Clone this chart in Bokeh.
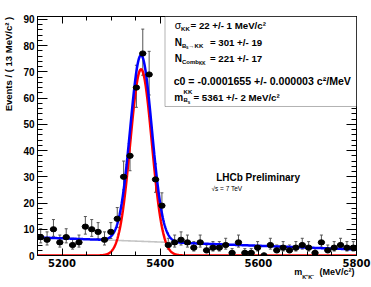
import numpy as np
from bokeh.plotting import figure
from bokeh.models import (Range1d, LinearAxis, SingleIntervalTicker, FixedTicker,
                          Label, BoxAnnotation, Whisker, ColumnDataSource, TeeHead)
from bokeh.embed import file_html
from bokeh.resources import INLINE

# ---------------- data ----------------
mass_min = 5150.0
mass_max = 5800.0
bin_width = 13.0
counts = [7, 6, 10, 5, 7, 4, 5, 11, 10, 9,
          6, 9, 14, 30, 38, 64, 77, 69, 29, 19,
          4, 5, 6, 5, 3, 5, 2, 3, 3, 4,
          1, 5, 1, 1, 3, 0, 4, 2, 3, 2,
          3, 4, 3, 1, 5, 2, 3, 4, 3, 3]

# fit result (from the legend box) and background
sig_mean = 5361.0
sig_sigma = 22.0
sig_yield = 301.0
bkg_left = 6.9     # combinatorial level at 5150
bkg_right = 2.3    # combinatorial level at 5800

y_max = 91.1
x_tick_step = 200
y_tick_step = 10
y_title = "Events / ( 13 MeV/c² )"
x_title_main = ["m", "(MeV/c²)"]
x_title_sub = "K⁺K⁻"

# ---------------- layout helpers (canvas pixels -> data) ----------------
W, H = 371, 287
BL, BR, BT, BB = 35, 15, 16, 32
FL, FR = BL, W - BR
FT, FB = BT, H - BB


def dx(px):
    return round(mass_min + (px - FL) / (FR - FL) * (mass_max - mass_min), 3)


def dy(py):
    return round((FB - py) / (FB - FT) * y_max, 4)


# ---------------- derived columns ----------------
n = np.array(counts, dtype=float)
centers = mass_min + bin_width * (np.arange(len(counts)) + 0.5)
err_lo = n - (np.sqrt(n + 0.25) - 0.5)
err_hi = n + (np.sqrt(n + 0.25) + 0.5)
data_src = ColumnDataSource(dict(x=centers, y=n, lo=err_lo, hi=err_hi))

m = np.linspace(mass_min, mass_max, 1301)
amp = sig_yield * bin_width / (np.sqrt(2 * np.pi) * sig_sigma)
sig = amp * np.exp(-0.5 * ((m - sig_mean) / sig_sigma) ** 2)
bkg = bkg_left + (bkg_right - bkg_left) * (m - mass_min) / (mass_max - mass_min)
curve_src = ColumnDataSource(dict(m=m, sig=sig, bkg=bkg, tot=sig + bkg))

# ---------------- figure ----------------
p = figure(width=W, height=H, output_backend="svg", toolbar_location=None,
           x_range=Range1d(mass_min, mass_max), y_range=Range1d(0, y_max),
           min_border_left=BL, min_border_right=BR, min_border_top=BT,
           min_border_bottom=BB, x_axis_location=None, y_axis_location=None)
p.grid.visible = False
p.background_fill_color = "white"
p.border_fill_color = "white"
p.outline_line_color = "black"
p.outline_line_width = 1


def make_axis(ticker, tick_major, tick_minor, font=None, standoff=0):
    ax = LinearAxis(ticker=ticker)
    ax.major_tick_in = tick_major
    ax.major_tick_out = 0
    ax.minor_tick_in = tick_minor
    ax.minor_tick_out = 0
    ax.axis_line_color = "black"
    ax.major_tick_line_color = "black"
    ax.minor_tick_line_color = "black"
    if font:
        ax.major_label_text_font = font
        ax.major_label_text_font_style = "bold"
        ax.major_label_text_font_size = "10px"
        ax.major_label_standoff = standoff
        ax.major_label_text_color = "black"
    else:
        ax.major_label_text_font_size = "8px"
        ax.major_label_text_color = None
        ax.major_label_standoff = 0
    return ax


def title_axis(ticks, labels, size, standoff, orientation="horizontal"):
    ax = LinearAxis(ticker=FixedTicker(ticks=ticks, minor_ticks=[]))
    ax.major_label_overrides = {t: lab for t, lab in zip(ticks, labels)}
    ax.axis_line_color = None
    ax.major_tick_line_color = None
    ax.minor_tick_line_color = None
    ax.major_tick_in = 0
    ax.major_tick_out = 0
    ax.minor_tick_in = 0
    ax.minor_tick_out = 0
    ax.major_label_standoff = standoff
    ax.major_label_orientation = orientation
    ax.major_label_text_font = "Liberation Sans"
    ax.major_label_text_font_style = "bold"
    ax.major_label_text_font_size = f"{size}px"
    ax.major_label_text_color = "black"
    return ax


yt = SingleIntervalTicker(interval=y_tick_step, num_minor_ticks=5)
xt = SingleIntervalTicker(interval=x_tick_step, num_minor_ticks=4)

p.add_layout(make_axis(yt, 10, 5, "Liberation Sans", 3), "left")
p.add_layout(title_axis([dy(63.6)], [y_title], 9.5, 6, "vertical"), "left")
p.add_layout(make_axis(yt, 10, 5), "right")
p.add_layout(make_axis(xt, 7, 4, "DejaVu Sans", 3), "below")
p.add_layout(make_axis(xt, 7, 4), "above")

# x-axis title: "m" and "(MeV/c²)" on one row, the subscript just below
p.add_layout(title_axis([dx(297.3), dx(336.5)], x_title_main, 9, -3), "below")
p.add_layout(title_axis([dx(307.5)], [x_title_sub], 5.5, -6), "below")

# curves
p.line("m", "bkg", source=curve_src, line_color="#c4c4c4", line_width=1.6)
p.line("m", "sig", source=curve_src, line_color="#ff0000", line_width=2.5)
p.line("m", "tot", source=curve_src, line_color="#0000ff", line_width=2.5)

# data with error bars
p.add_layout(Whisker(source=data_src, base="x", lower="lo", upper="hi",
                     line_color="#555555", line_width=1,
                     lower_head=TeeHead(size=3, line_color="#555555", line_width=1),
                     upper_head=TeeHead(size=3, line_color="#555555", line_width=1)))
p.ellipse("x", "y", source=data_src, width=6.4, height=5.2,
          width_units="screen", height_units="screen",
          fill_color="black", line_color="black")

# result box
p.add_layout(BoxAnnotation(left=dx(163.3), right=mass_max, bottom=dy(106), top=y_max,
                           fill_color="white", fill_alpha=1.0,
                           line_color="black", line_width=1, level="annotation"))


def txt(text, px, py, size, bold=True, font="Liberation Sans", align="left"):
    p.add_layout(Label(x=dx(px), y=dy(py), text=text, text_font=font,
                       text_font_size=f"{size}px",
                       text_font_style="bold" if bold else "normal",
                       text_color="black", text_align=align,
                       text_baseline="middle"))


# line 1: sigma_KK
txt("σ", 173, 25, 10.5, bold=False)
txt("KK", 179.5, 28.3, 6)
txt("= 22 +/- 1 MeV/c²", 189, 25, 9.7)
# line 2: N_{Bs->KK}
txt("N", 173, 41.7, 10)
txt("B", 180.3, 45, 6)
txt("s", 184.4, 47, 4.5)
txt("→KK", 187, 45, 6)
txt("= 301 +/- 19", 208.5, 41.7, 9.7)
# line 3: N_{Comb_KK}
txt("N", 173, 58.3, 10)
txt("Comb", 180.3, 61.5, 6)
txt("KK", 197.6, 63.5, 4.5)
txt("= 221 +/- 17", 208.5, 58.3, 9.7)
# line 4: c0
txt("c0 = -0.0001655 +/- 0.000003 c²/MeV", 172, 80, 10.6)
# line 5: m_{Bs}^{KK}
txt("m", 172.5, 96.7, 10)
txt("KK", 182, 92, 6)
txt("B", 182, 100, 6)
txt("s", 186.2, 102, 4.5)
txt("= 5361 +/- 2 MeV/c²", 192, 96.7, 9.7)

# LHCb labels
txt("LHCb Preliminary", 257, 176.7, 10, align="center")
txt("√s = 7 TeV", 210, 187.7, 6.5, bold=False)

open("out.html", "w").write(file_html(p, INLINE))
